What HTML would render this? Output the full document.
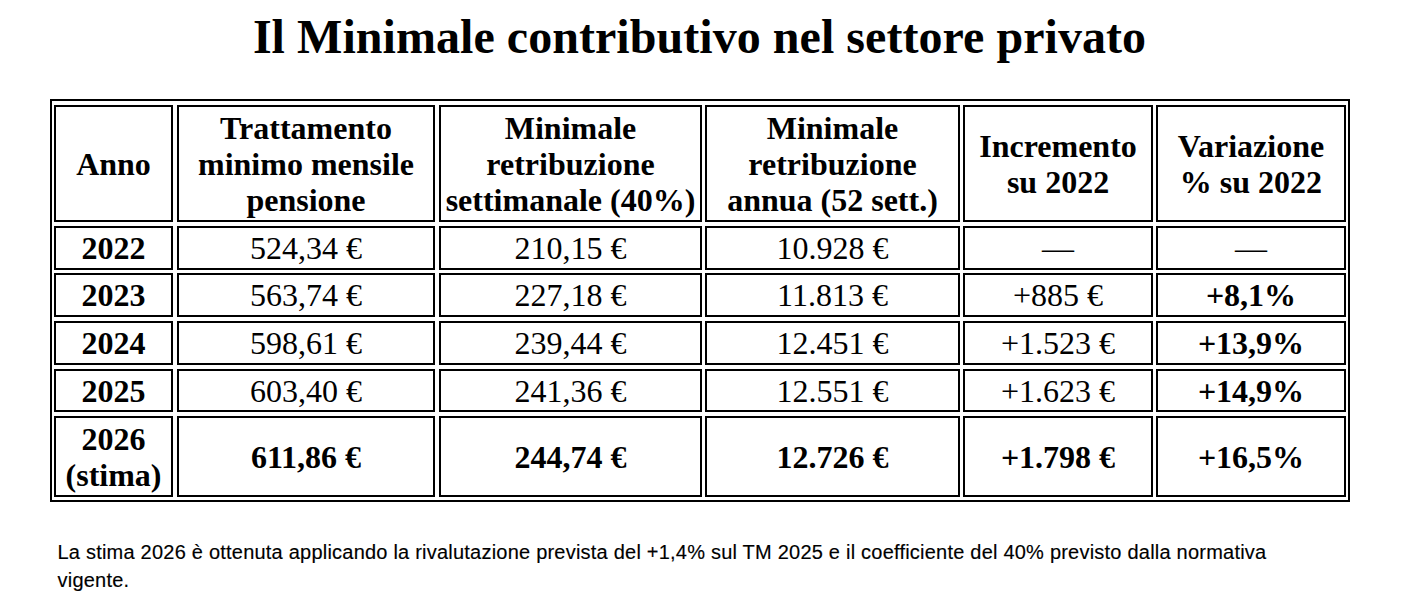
<!DOCTYPE html>
<html><head><meta charset="utf-8"><title>Il Minimale contributivo nel settore privato</title>
<style>
html,body{margin:0;padding:0;background:#fff;}
body{width:1414px;height:606px;position:relative;overflow:hidden;color:#000;font-family:"Liberation Serif",serif;}
h1{position:absolute;left:-0.5px;top:10px;width:1400px;letter-spacing:0.05px;margin:0;text-align:center;font-size:48px;font-weight:bold;line-height:54px;white-space:nowrap;}
.tbl{position:absolute;left:50px;top:99px;width:1300px;height:403px;box-sizing:border-box;border:2px solid #000;}
.c div{position:absolute;box-sizing:border-box;border:2px solid #000;display:flex;align-items:center;justify-content:center;text-align:center;font-size:32px;line-height:36px;white-space:nowrap;}
.c div.b{font-weight:bold;}
p.note{position:absolute;left:57.5px;top:537.5px;width:1300px;margin:0;font-family:"Liberation Sans",sans-serif;font-size:20px;line-height:28px;letter-spacing:0.22px;-webkit-text-stroke:0.15px #000;}
</style></head><body>
<h1>Il Minimale contributivo nel settore privato</h1>
<div class="tbl"></div>
<div class="c">
<div class="b" style="left:54px;top:105px;width:119px;height:117px"><span>Anno</span></div>
<div class="b" style="left:177px;top:105px;width:258px;height:117px"><span>Trattamento<br>minimo mensile<br>pensione</span></div>
<div class="b" style="left:439px;top:105px;width:263px;height:117px"><span>Minimale<br>retribuzione<br>settimanale (40%)</span></div>
<div class="b" style="left:705px;top:105px;width:255px;height:117px"><span>Minimale<br>retribuzione<br>annua (52 sett.)</span></div>
<div class="b" style="left:963px;top:105px;width:190px;height:117px"><span>Incremento<br>su 2022</span></div>
<div class="b" style="left:1156px;top:105px;width:190px;height:117px"><span>Variazione<br>% su 2022</span></div>
<div class="b" style="left:54px;top:226px;width:119px;height:44px"><span>2022</span></div>
<div style="left:177px;top:226px;width:258px;height:44px"><span>524,34 €</span></div>
<div style="left:439px;top:226px;width:263px;height:44px"><span>210,15 €</span></div>
<div style="left:705px;top:226px;width:255px;height:44px"><span>10.928 €</span></div>
<div class="d" style="left:963px;top:226px;width:190px;height:44px"><span>—</span></div>
<div class="d" style="left:1156px;top:226px;width:190px;height:44px"><span>—</span></div>
<div class="b" style="left:54px;top:273px;width:119px;height:44px"><span>2023</span></div>
<div style="left:177px;top:273px;width:258px;height:44px"><span>563,74 €</span></div>
<div style="left:439px;top:273px;width:263px;height:44px"><span>227,18 €</span></div>
<div style="left:705px;top:273px;width:255px;height:44px"><span>11.813 €</span></div>
<div style="left:963px;top:273px;width:190px;height:44px"><span>+885 €</span></div>
<div class="b" style="left:1156px;top:273px;width:190px;height:44px"><span>+8,1%</span></div>
<div class="b" style="left:54px;top:321px;width:119px;height:44px"><span>2024</span></div>
<div style="left:177px;top:321px;width:258px;height:44px"><span>598,61 €</span></div>
<div style="left:439px;top:321px;width:263px;height:44px"><span>239,44 €</span></div>
<div style="left:705px;top:321px;width:255px;height:44px"><span>12.451 €</span></div>
<div style="left:963px;top:321px;width:190px;height:44px"><span>+1.523 €</span></div>
<div class="b" style="left:1156px;top:321px;width:190px;height:44px"><span>+13,9%</span></div>
<div class="b" style="left:54px;top:369px;width:119px;height:43px"><span>2025</span></div>
<div style="left:177px;top:369px;width:258px;height:43px"><span>603,40 €</span></div>
<div style="left:439px;top:369px;width:263px;height:43px"><span>241,36 €</span></div>
<div style="left:705px;top:369px;width:255px;height:43px"><span>12.551 €</span></div>
<div style="left:963px;top:369px;width:190px;height:43px"><span>+1.623 €</span></div>
<div class="b" style="left:1156px;top:369px;width:190px;height:43px"><span>+14,9%</span></div>
<div class="b" style="left:54px;top:416px;width:119px;height:81px"><span>2026<br>(stima)</span></div>
<div class="b" style="left:177px;top:416px;width:258px;height:81px"><span>611,86 €</span></div>
<div class="b" style="left:439px;top:416px;width:263px;height:81px"><span>244,74 €</span></div>
<div class="b" style="left:705px;top:416px;width:255px;height:81px"><span>12.726 €</span></div>
<div class="b" style="left:963px;top:416px;width:190px;height:81px"><span>+1.798 €</span></div>
<div class="b" style="left:1156px;top:416px;width:190px;height:81px"><span>+16,5%</span></div>
</div>
<p class="note">La stima 2026 è ottenuta applicando la rivalutazione prevista del +1,4% sul TM 2025 e il coefficiente del 40% previsto dalla normativa<br>vigente.</p>
</body></html>
